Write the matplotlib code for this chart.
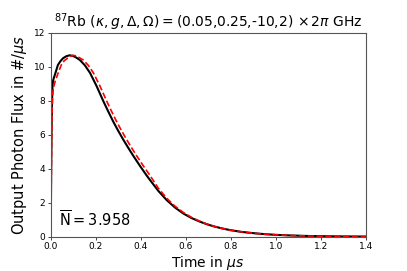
import matplotlib
matplotlib.use("Agg")
import matplotlib.pyplot as plt

# ── Data ──────────────────────────────────────────────────────────────────────
t_exact = [0.0, 0.002, 0.004, 0.006, 0.008, 0.010, 0.014, 0.018, 0.025, 0.032,
           0.043, 0.055, 0.070, 0.084, 0.098, 0.112, 0.130, 0.152, 0.175,
           0.204, 0.234, 0.256, 0.278, 0.300, 0.323, 0.345, 0.367, 0.397,
           0.427, 0.440, 0.478, 0.515, 0.552, 0.590, 0.627, 0.664, 0.697,
           0.730, 0.764, 0.797, 0.850, 0.900, 0.950, 1.000, 1.050, 1.100,
           1.150, 1.200, 1.300, 1.400]
flux_exact = [0.0, 3.5, 6.3, 8.0, 8.8, 9.14, 9.35, 9.5, 9.8, 10.1,
              10.32, 10.5, 10.62, 10.67, 10.64, 10.55, 10.39, 10.08, 9.63,
              8.86, 7.97, 7.36, 6.77, 6.23, 5.70, 5.22, 4.76, 4.16,
              3.59, 3.36, 2.70, 2.16, 1.72, 1.36, 1.09, 0.88, 0.72,
              0.59, 0.48, 0.39, 0.28, 0.21, 0.15, 0.11, 0.08, 0.06,
              0.04, 0.03, 0.016, 0.008]

t_approx = [0.0, 0.002, 0.004, 0.006, 0.008, 0.010, 0.015, 0.020, 0.025, 0.035,
            0.047, 0.060, 0.075, 0.087, 0.099, 0.112, 0.125, 0.145, 0.167,
            0.190, 0.219, 0.249, 0.271, 0.293, 0.315, 0.338, 0.360, 0.382,
            0.412, 0.442, 0.478, 0.515, 0.552, 0.590, 0.627, 0.664, 0.697,
            0.730, 0.764, 0.797, 0.850, 0.900, 0.950, 1.000, 1.050, 1.100,
            1.150, 1.200, 1.300, 1.400]
flux_approx = [0.0, 2.8, 5.4, 7.2, 8.1, 8.55, 8.9, 9.15, 9.33, 9.7,
               10.1, 10.35, 10.5, 10.6, 10.67, 10.64, 10.55, 10.39, 10.08,
               9.63, 8.86, 7.97, 7.36, 6.77, 6.23, 5.70, 5.22, 4.76,
               4.16, 3.59, 2.86, 2.27, 1.80, 1.42, 1.13, 0.90, 0.73,
               0.59, 0.48, 0.38, 0.28, 0.2, 0.15, 0.11, 0.08, 0.055,
               0.04, 0.028, 0.015, 0.008]

n_mean = 3.958

# ── Plot ──────────────────────────────────────────────────────────────────────
fig = plt.figure(figsize=(4.07, 2.71), dpi=100)
ax = fig.add_axes([50.7 / 407, 1 - 236.7 / 271, 315 / 407, 204 / 271])

ax.plot(t_exact, flux_exact, color="black", linewidth=1.5)
ax.plot(t_approx, flux_approx, color="red", linestyle="--", linewidth=1.2)

ax.set_xlim(0, 1.4)
ax.set_ylim(0, 12)
ax.set_xticks([0.0, 0.2, 0.4, 0.6, 0.8, 1.0, 1.2, 1.4])
ax.set_yticks([0, 2, 4, 6, 8, 10, 12])
ax.tick_params(labelsize=6.5, length=2.5, width=0.7, color="#444444", pad=1.5)
for sp in ax.spines.values():
    sp.set_color("#555555")
    sp.set_linewidth(0.8)

ax.text(0.025, 0.035, r"$\overline{\mathrm{N}} = $" + f"{n_mean:.3f}",
        transform=ax.transAxes, fontsize=10.5, ha="left", va="bottom")

ax.set_title(r"$^{87}$Rb $(\kappa, g, \Delta, \Omega) = $(0.05,0.25,-10,2) $\times\, 2\pi$ GHz",
             fontsize=10, pad=4)
ax.set_xlabel(r"Time in $\mu s$", fontsize=10, labelpad=2)
ax.set_ylabel(r"Output Photon Flux in #/$\mu s$", fontsize=10.5, labelpad=3)

fig.savefig("out.png", dpi=100)
plt.close("all")
